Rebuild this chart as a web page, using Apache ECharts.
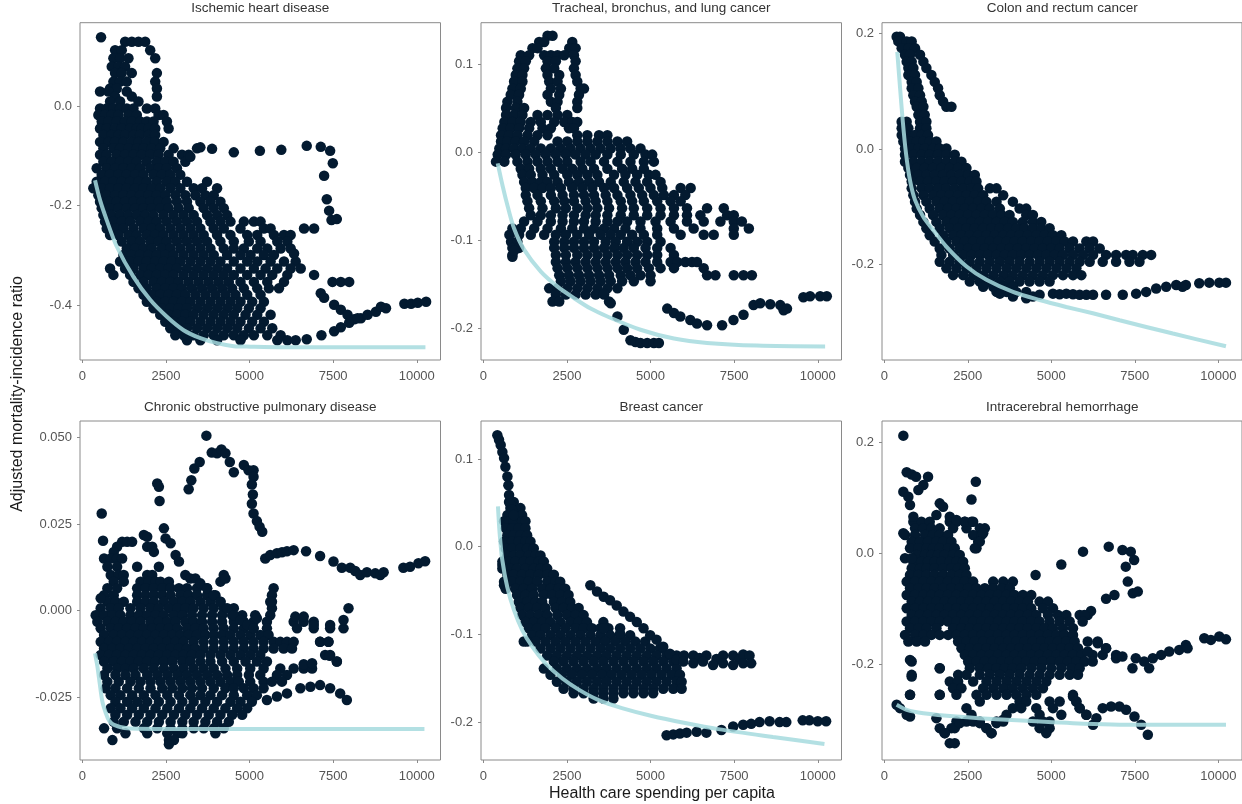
<!DOCTYPE html>
<html><head><meta charset="utf-8">
<script src="https://cdn.jsdelivr.net/npm/echarts@6/dist/echarts.min.js"></script>
<style>html,body{margin:0;padding:0;background:#fff}#c{width:1242px;height:804px}</style>
</head><body><div id="c"></div>
<script>
// ---------- DATA ----------
const panelTitles = ['Ischemic heart disease','Tracheal, bronchus, and lung cancer','Colon and rectum cancer',
  'Chronic obstructive pulmonary disease','Breast cancer','Intracerebral hemorrhage'];
const xLabel = 'Health care spending per capita';
const yLabel = 'Adjusted mortality-incidence ratio';
const xTicks = [0,2500,5000,7500,10000];
const yTicks1 = [-0.4,-0.2,0.0];
const yTicks2 = [-0.2,-0.1,0.0,0.1];
const yTicks3 = [-0.2,0.0,0.2];
const yTicks4 = [-0.025,0.000,0.025,0.050];
const yTicks5 = [-0.2,-0.1,0.0,0.1];
const yTicks6 = [-0.2,0.0,0.2];

// rows: [y, x1, x2, ...]
const ihdRows = [
[0.138,560],[0.129,1280,1480,1680,1880],[0.112,980,1180,2030],[0.096,930,1130,1380,2180],[0.079,880,1080,1280],
[0.066,980,1180,1480,2230],[0.049,930,1130,1330,2180],[0.035,830,1030,2230],[0.029,530,780,1330],[0.019,980,1480,2230],
[0.009,830,1130,1680],[-0.005,530,730,930,1130,1330,1530,1930,2180],[-0.018,480,680,880,1080,1380,1630,2280,2430],
[-0.031,580,780,1030,1280,1480,1730,1930,2130,2530],[-0.045,530,730,980,1180,1430,1630,1780,1980,2180,2580],
[-0.058,630,880,1080,1280,1530,1730,1980,2180],[-0.072,530,780,980,1230,1480,1680,1930,2180,2430],
[-0.085,630,930,1130,1380,1630,1830,2080,2330,2730],[-0.098,530,730,1030,1280,1530,1780,2030,2280,2580,2980,3180],
[-0.112,630,880,1130,1380,1630,1930,2230,2480,2730,3080],[-0.125,430,730,980,1230,1480,1730,2030,2280,2530,2830],
[-0.138,580,830,1080,1330,1580,1830,2130,2380,2630,2930],[-0.152,430,680,930,1180,1430,1680,1930,2230,2530,2780,3130,3730],
[-0.165,330,580,830,1080,1330,1580,1830,2080,2330,2630,2930,3330,3580,4030],
[-0.179,480,730,980,1230,1480,1730,1980,2230,2480,2780,3080,3380,3680,3930],
[-0.192,530,780,1030,1280,1530,1780,2030,2280,2530,2830,3130,3530,3830,4130],
[-0.205,580,830,1080,1330,1580,1830,2080,2330,2580,2880,3180,3630,3930,4230],
[-0.219,630,880,1130,1380,1630,1880,2130,2430,2730,3030,3330,3730,4030,4330],
[-0.232,680,930,1180,1430,1730,1980,2230,2530,2830,3130,3430,3830,4130,4430,4830,5130,5330],
[-0.246,730,980,1230,1530,1830,2080,2330,2630,2930,3230,3530,3930,4230,4730,5430,5630,6630,6930],
[-0.259,830,1080,1380,1630,1930,2180,2430,2730,3030,3330,3630,4030,4430,4930,5230,5730,6030,6230],
[-0.272,1180,1480,1730,2030,2280,2530,2830,3130,3430,3730,4130,4530,4980,5330,5830,6130],
[-0.286,1330,1580,1830,2080,2380,2630,2930,3230,3530,3830,4230,4530,4830,5230,5530,5930,6230],
[-0.299,1230,1480,1730,1980,2230,2480,2730,3030,3330,3630,3930,4330,4730,5030,5430,5730],
[-0.312,1130,1430,1680,1930,2180,2430,2680,2930,3230,3530,3830,4130,4530,4930,5230,5630,6030,6380],
[-0.326,830,1280,1530,1830,2080,2330,2580,2830,3130,3430,3730,4030,4330,4730,5130,5480,5830,6230,6530],
[-0.339,930,1430,1730,1980,2230,2480,2730,3030,3330,3630,3930,4230,4530,4930,5330,5680,6130,6930],
[-0.353,1530,1830,2130,2380,2630,2880,3180,3480,3780,4080,4380,4730,5130,5530,6030,7480,7730,7980],
[-0.366,1680,1930,2230,2480,2730,2980,3280,3580,3880,4180,4480,4830,5230,5580,5880],
[-0.379,1830,2080,2330,2580,2830,3080,3380,3680,3980,4280,4580,4930,5330],
[-0.393,1930,2230,2480,2730,2980,3230,3530,3830,4130,4430,4730,5080,5430],
[-0.406,2130,2380,2630,2880,3130,3430,3730,4030,4330,4630,4980,5330],
[-0.419,2330,2580,2830,3080,3330,3630,3930,4230,4530,4880,5230,5630],
[-0.433,2480,2730,2980,3230,3530,3830,4130,4430,4730,5080,5430],
[-0.446,2630,2880,3130,3430,3730,4030,4330,4630,4980,5330,5680],
[-0.460,2780,3030,3330,3630,3930,4230,4530,4830,5130,5530,5930],
[-0.470,3130,3530,4030,4730,5830,6130,6380]
];
const ihdExtra = [
[3230,-0.102],[3430,-0.085],[3530,-0.083],[3880,-0.086],[4530,-0.093],[5310,-0.090],[5950,-0.088],[6710,-0.080],
[7130,-0.082],[7410,-0.090],[7490,-0.115],[7230,-0.140],[7310,-0.187],[7380,-0.210],[7450,-0.229],[7610,-0.227],
[6330,-0.296],[7130,-0.376],[7230,-0.385],[7530,-0.399],[7730,-0.409],[7930,-0.419],[8130,-0.428],[8330,-0.426],
[8530,-0.419],[8780,-0.413],[8930,-0.403],[9080,-0.406],[9630,-0.397],[9830,-0.397],[10030,-0.395],[10280,-0.393],
[6710,-0.468],[7150,-0.460],[7530,-0.452],[7730,-0.444],[7980,-0.435],[8230,-0.426]
];
const ihdFit = [[380,-0.149],[530,-0.189],[730,-0.229],[1030,-0.282],[1530,-0.343],[2030,-0.389],[2530,-0.423],
[3030,-0.450],[3530,-0.466],[4030,-0.476],[4530,-0.482],[5030,-0.483],[6000,-0.484],[8000,-0.484],[10260,-0.484]];

const tblRows = [
[0.132,1920,2070],[0.125,1670,1820,2660],[0.118,1470,1620,2570,2760],[0.110,1120,1370,1820,2020,2220,2420,2710],
[0.103,1070,1270,1920,2170,2760],[0.095,1020,1220,1870,2120,2710],[0.0875,970,1170,1920,2270,2760],
[0.080,920,1170,1970,2220,2810],[0.072,870,1120,2020,2320,2910,3010],[0.065,820,1070,1920,2270,2860],
[0.057,720,1020,2020,2220,2810],[0.050,680,970,1220,2170,2810],[0.042,680,920,1170,1620,1920,2220,2510],
[0.034,630,870,1120,1420,1720,2120,2420,2660,2810],[0.027,580,820,1070,1370,1770,2020,2560,2710],
[0.019,530,770,1020,1320,1620,1920,2810,3110,3460,3710],
[0.012,530,720,970,1220,1520,2220,2510,2810,3110,3410,3710,4010,4300],
[0.004,480,680,920,1170,1420,1720,2020,2320,2610,2910,3210,3510,3810,4110,4400,4700],
[-0.003,430,680,970,1270,1570,1870,2170,2470,2760,3060,3360,3710,4110,4500,4850,5050],
[-0.011,380,630,1020,1320,1620,1920,2220,2510,2910,3210,3610,4010,4400,4800,5100],
[-0.019,1120,1370,1720,2020,2370,2660,2960,3310,3710,4150,4450,4800],
[-0.026,1170,1420,1770,2120,2510,2810,3110,3410,3910,4250,4600,4950,5150],
[-0.034,1220,1470,1720,1920,2220,2560,2860,3160,3460,3810,4200,4550,4900,5300],
[-0.041,1270,1520,1770,2020,2320,2660,2960,3260,3610,3910,4300,4650,5000,5350,5900,6200],
[-0.049,1270,1620,2020,2370,2710,3010,3310,3660,4010,4400,4750,5100,5400,5700,6040],
[-0.056,1320,1720,2120,2420,2710,3060,3360,3710,4110,4450,4800,5200,5600,5900],
[-0.064,1370,1770,2170,2470,2810,3110,3410,3760,4150,4500,4900,5300,5700,6090,6690,7190],
[-0.072,1420,1720,2020,2370,2710,3060,3360,3710,4110,4500,4900,5300,5700,6090,6490,7290,7490],
[-0.079,1220,1620,2020,2370,2710,3010,3360,3710,4010,4300,4700,5150,5600,6090,6590,7090,7490,7730],
[-0.087,870,1120,1520,1920,2320,2660,3010,3310,3610,3910,4250,4700,5200,5700,6290,7490,7940],
[-0.094,780,1070,1420,1820,2170,2470,2810,3160,3510,3810,4110,4450,4800,5200,5900,6590,6890,7490],
[-0.102,830,1020,2120,2420,2710,3010,3310,3660,3960,4300,4600,4900,5300],
[-0.109,870,1070,2120,2420,2710,3010,3310,3610,3910,4200,4500,4850,5200,5600],
[-0.117,870,2170,2470,2810,3110,3410,3710,4010,4300,4600,4900,5200,5700],
[-0.125,2170,2470,2760,3060,3360,3660,3960,4250,4550,4850,5200,5600,5800,6040,6240,6390],
[-0.132,2220,2510,2810,3110,3410,3710,4010,4300,4600,4950,5300,5700,6590],
[-0.140,2270,2560,2860,3160,3460,3760,4110,4400,4700,5000,6690,6940,7490,7780,8030],
[-0.147,2320,2610,2910,3210,3510,3810,4150,4500,5000],
[-0.155,1970,2220,2510,2810,3110,3410,3710,4010],
[-0.162,2170,2470,2760,3060,3360,3610],
[-0.170,2070,2270,3760]
];
const tblExtra = [
[5500,-0.178],[5700,-0.183],[5890,-0.187],[6190,-0.191],[6390,-0.195],[6690,-0.197],[7140,-0.197],[7480,-0.191],
[7780,-0.185],[8080,-0.174],[8280,-0.172],[8580,-0.173],[8880,-0.174],[8980,-0.180],[9080,-0.178],[9570,-0.165],
[9770,-0.164],[10070,-0.164],[10270,-0.164],
[3610,-0.161],[3810,-0.172],[4010,-0.187],[4200,-0.202],[4400,-0.214],[4550,-0.216],[4700,-0.217],[4900,-0.217],
[5100,-0.217],[5250,-0.217],[870,-0.119],[920,-0.112]
];
const tblFit = [[430,-0.013],[580,-0.039],[730,-0.062],[920,-0.087],[1220,-0.111],[1720,-0.136],[2220,-0.153],
[2710,-0.166],[3210,-0.178],[3710,-0.187],[4700,-0.202],[5700,-0.212],[6690,-0.217],[8180,-0.220],[10220,-0.221]];

const crcRows = [
[0.194,370,470],[0.186,420,670,820],[0.174,520,720,920],[0.163,620,770,1070],[0.151,670,820,1170],[0.140,720,870,1260],
[0.128,720,920,1410],[0.116,820,970,1510],[0.105,820,1020,1610],[0.093,870,1070,1660],[0.082,920,1120,1760],
[0.073,970,1170,1860,2010],[0.059,1020,1210],[0.047,520,670,1070,1260],[0.036,520,720,1070,1260],
[0.024,520,670,920,1120,1310],[0.013,570,770,970,1170,1360,1560],[0.001,620,820,1020,1210,1460,1660,1860],
[-0.010,620,870,1120,1360,1610,1860,2110],[-0.022,620,870,1120,1360,1610,1860,2110,2310],
[-0.033,720,970,1210,1460,1710,1960,2210,2460],[-0.045,770,1020,1260,1510,1760,2010,2260,2510,2710],
[-0.056,820,1070,1310,1560,1810,2060,2310,2560,2760],[-0.068,820,1120,1360,1610,1860,2110,2360,2610,2810,3160,3360],
[-0.080,870,1170,1460,1710,1960,2210,2460,2710,2960,3560],[-0.091,920,1260,1560,1810,2060,2310,2560,2810,3060,3360,3850],
[-0.103,970,1360,1660,1910,2160,2410,2660,2910,3160,3460,4050,4250],
[-0.114,1070,1460,1760,2010,2260,2510,2760,3010,3260,3510,3750,4250,4450],
[-0.126,1170,1560,1860,2110,2360,2610,2860,3110,3360,3610,3850,4150,4450,4700],
[-0.137,1260,1660,1960,2210,2460,2710,2960,3210,3460,3710,3950,4200,4450,4700,4950],
[-0.149,1360,1760,2060,2310,2560,2810,3060,3310,3560,3800,4050,4300,4550,4800,5050,5300],
[-0.160,1510,1860,2160,2410,2660,2910,3160,3410,3660,3900,4150,4400,4650,4900,5150,5400,5650,6050,6250],
[-0.172,1660,1960,2260,2510,2760,3010,3260,3510,3750,4000,4250,4500,4750,5000,5250,5550,5850,6150,6450],
[-0.183,1710,2060,2360,2610,2860,3110,3360,3610,3850,4100,4350,4600,4850,5100,5350,5650,5950,6250,6640,6940,7240,7440,7740,7990],
[-0.195,1660,1960,2260,2560,2860,3160,3460,3750,4050,4350,4650,4950,5250,5550,5850,6150,6540,6940,7340,7640],
[-0.206,1860,2160,2460,2760,3060,3360,3660,3950,4250,4550,4850,5150,5450,5750],
[-0.218,2060,2360,2660,2960,3260,3560,3850,4150,4450,4750,5050,5350,5650,5900],
[-0.229,2560,2860,3160,3460,3750,4050,4350,4650,4950],
[-0.238,2960,3260,3560,3850],
[-0.247,3360,3660,3950,4250]
];
const crcExtra = [
[3460,-0.250],[3850,-0.255],[4250,-0.258],[4450,-0.255],[4650,-0.252],[5050,-0.250],[5250,-0.251],[5450,-0.250],
[5650,-0.251],[5850,-0.252],[6050,-0.252],[6250,-0.252],[6640,-0.252],[7140,-0.252],[7540,-0.250],[7840,-0.247],
[8140,-0.241],[8440,-0.238],[8740,-0.235],[8930,-0.238],[9030,-0.235],[9430,-0.232],[9730,-0.231],[10030,-0.231],[10230,-0.231]
];
const crcFit = [[388,0.168],[469,0.108],[550,0.050],[648,-0.007],[768,-0.054],[918,-0.088],[1165,-0.117],
[1464,-0.140],[1864,-0.169],[2462,-0.203],[3060,-0.226],[3854,-0.247],[4651,-0.261],[5449,-0.273],[6244,-0.284],
[7045,-0.296],[8640,-0.319],[10230,-0.341]];

const copdRows = [
[0.0219,1840],[0.0214,1940],[0.0199,1190,1340,1490],[0.0185,1040,1940,2090],[0.0170,940,2140],[0.0151,650,850,1040,1190],
[0.0127,750,1040,1640,2290],[0.0103,850,1090,1240,1940,2090],[0.0084,940,1240,1740,1990,2190,2340,2590,4130],
[0.0065,750,1040,1640,1890,2140,2390,2640,2890,3130,3430,3730],
[0.0045,650,940,1640,1890,2140,2390,2640,2940,3180,3430,3730,3980],
[0.0026,750,1000,1240,1640,1890,2140,2440,2740,2990,3230,3530,3830,4130,5670],
[0.0007,550,850,1090,1440,1740,2040,2290,2590,2840,3080,3330,3630,3930,4230,4530,5670],
[-0.0013,400,650,900,1140,1440,1690,1940,2190,2440,2740,2990,3280,3580,3880,4180,4480,4780,5170,5620],
[-0.0032,450,750,1000,1240,1490,1740,2040,2290,2540,2790,3080,3330,3580,3880,4180,4530,4830,5120,5520,6320,6620,6920],
[-0.0051,550,850,1090,1340,1590,1840,2090,2340,2590,2840,3130,3380,3630,3930,4230,4530,4830,5120,5520,6420,6920,7410,7810],
[-0.0070,650,940,1190,1440,1690,1940,2190,2440,2690,2940,3180,3430,3680,3930,4180,4430,4730,5020,5320,5570],
[-0.0090,550,800,1040,1290,1540,1790,2040,2290,2540,2790,3030,3330,3630,3930,4230,4530,4830,5120,5420,5720,5920,6120,6320,7110,7360],
[-0.0109,650,900,1140,1390,1640,1890,2140,2390,2640,2890,3130,3380,3630,3930,4230,4530,4830,5120,5420,5720,6020,6270],
[-0.0128,550,800,1040,1290,1540,1790,2040,2290,2540,2790,3030,3280,3530,3830,4130,4430,4730,5020,5320,7260,7410],
[-0.0147,650,940,1190,1440,1690,1940,2190,2440,2690,2990,3230,3530,3830,4180,4530,4880,5220,5520,7610],
[-0.0167,750,1040,1290,1540,1840,2140,2440,2740,3030,3330,3630,3930,4280,4630,5020,5420,5920,6320,6620,6870],
[-0.0186,650,990,1290,1590,1940,2240,2540,2840,3130,3430,3730,4030,4330,4630,4980,5320,5820,6120],
[-0.0205,750,1090,1440,1740,2040,2340,2640,2940,3230,3530,3830,4130,4430,4680,5020,5420,5670,5970],
[-0.0224,700,990,1340,1690,2040,2390,2690,2990,3280,3580,3930,4280,4530,4830,5120,5420],
[-0.0244,850,1140,1490,1840,2190,2540,2890,3230,3530,3830,4180,4530,4930,5220],
[-0.0263,990,1340,1640,1940,2290,2640,2990,3330,3680,4030,4430,4730,5070],
[-0.0282,850,1140,1490,1840,2190,2540,2890,3230,3580,3930,4280,4630,4930],
[-0.0301,990,1340,1690,2040,2390,2740,3080,3430,3780,4130,4480,4780],
[-0.0321,940,1240,1590,1940,2290,2640,2990,3330,3680,4030,4380],
[-0.0340,650,1040,1840,2240,2640,2990,3330,3630,3930,4230],
[-0.0354,1290,1940,2540,2840,2990,3980],[-0.0374,900,2590,2740],[-0.0386,2590]
];
const copdExtra = [
[580,0.0281],[620,0.0202],[550,0.0036],
[3180,0.0351],[3260,0.0377],[3350,0.0411],[3510,0.0430],[3710,0.0506],[3870,0.0457],[4030,0.0455],[4160,0.0466],
[4280,0.0455],[4410,0.0430],[4530,0.0400],[4830,0.0421],[4970,0.0406],[5120,0.0406],[5120,0.0387],[5070,0.0365],
[5100,0.0336],[5070,0.0309],[5120,0.0281],[5220,0.0259],[5300,0.0243],[5380,0.0228],
[2240,0.0368],[2290,0.0358],[2310,0.0317],
[5470,0.0151],[5620,0.0161],[5820,0.0166],[5970,0.0169],[6120,0.0172],[6320,0.0175],[6690,0.0172],[7110,0.0158],
[7510,0.0142],[7760,0.0124],[8010,0.0124],[8160,0.0115],[8310,0.0103],[8510,0.0111],[8760,0.0108],[8910,0.0103],
[9010,0.0111],[9600,0.0124],[9800,0.0127],[10050,0.0137],[10250,0.0143],
[2440,0.0238],[2490,0.0209],[2640,0.0195],[2790,0.0161],[2890,0.0142],[3080,0.0103],[3230,0.0093],[3380,0.0093],
[3530,0.0079],[3730,0.0065],[3930,0.0045],[4130,0.0026],[4330,0.0007],[4530,-0.0013],[4730,-0.0027],[4930,-0.0041],
[5120,-0.0051],[5220,-0.0022],[4230,0.0103],[4280,0.0093],[5720,0.0065],[5670,0.0045],[5620,0.0026],
[6370,-0.0017],[6620,-0.0017],[6920,-0.0041],[7410,-0.0041],[7810,-0.0027],[7960,0.0007],[7110,-0.0090],[7360,-0.0090],
[7400,-0.0130],[7610,-0.0147],[6620,-0.0155],[6870,-0.0152],
[5520,-0.0258],[5820,-0.0248],[6120,-0.0239],[6520,-0.0224],[6820,-0.0220],[7110,-0.0215],[7410,-0.0224],[7710,-0.0239],[7910,-0.0258]
];
const copdFit = [[380,-0.0123],[450,-0.0160],[500,-0.0195],[600,-0.0263],[700,-0.0295],[800,-0.0318],[950,-0.0330],
[1340,-0.0340],[2540,-0.0342],[10230,-0.0342]];

const brcRows = [
[0.051,770,910],[0.044,810,960,1110],[0.036,720,1010,1160],[0.029,620,770,910,1160,1260],[0.021,670,860,1060,1260],
[0.013,720,910,1110,1310],[0.006,620,860,1060,1260,1410],[-0.002,670,860,1110,1310,1510],[-0.010,720,910,1110,1360,1560,1710],
[-0.017,570,760,960,1210,1410,1660,1810],[-0.025,570,810,1010,1260,1510,1710,1910],[-0.032,720,910,1160,1410,1660,1910,2110],
[-0.040,620,860,1110,1360,1610,1910,2160,2300],[-0.048,670,960,1210,1460,1760,2010,2250,2450],
[-0.055,1010,1260,1510,1810,2060,2300,2550],[-0.063,1060,1310,1560,1760,2110,2350,2600],
[-0.070,1110,1360,1610,1860,2160,2400,2650,2850],[-0.078,1160,1410,1660,1910,2210,2500,2750,3000],
[-0.086,1260,1510,1760,2010,2300,2600,2850,3100,3590],[-0.093,1360,1610,1860,2160,2450,2750,3000,3250,3500,3740,4090],
[-0.101,1460,1710,2010,2300,2600,2900,3200,3500,3790,4090,4390],
[-0.108,1210,1560,1860,2160,2450,2750,3050,3350,3640,3940,4240,4540,4840],
[-0.116,1710,2010,2300,2600,2900,3200,3500,3790,4090,4390,4690,4990,5280],
[-0.124,1910,2200,2500,2800,3100,3400,3690,3990,4290,4590,4890,5180,5480,5780],
[-0.131,2110,2400,2700,3000,3300,3590,3890,4190,4490,4790,5080,5380,5680],
[-0.139,1810,2200,2500,2800,3100,3400,3690,3990,4290,4590,4890,5180,5480,5780],
[-0.146,2010,2350,2650,2950,3250,3550,3840,4140,4440,4740,5030,5330,5630,5880],
[-0.154,2200,2500,2800,3100,3400,3690,3990,4290,4590,4890,5180,5480,5780,5930],
[-0.162,2400,2700,3000,3300,3590,3890,4190,4490,4790,5080,5380,5680,5930],
[-0.167,2700,3000,3300,3590,3890,4190,4490,4790,5080],[-0.173,3300,3590,3890]
];
const brcExtra = [
[420,0.127],[470,0.122],[520,0.116],[570,0.108],[620,0.101],[660,0.091],[720,0.080],[750,0.070],[770,0.059],
[810,0.049],[860,0.042],[910,0.036],
[3200,-0.044],[3400,-0.051],[3600,-0.057],[3790,-0.061],[3990,-0.067],[4190,-0.074],[4390,-0.080],[4590,-0.086],
[4790,-0.093],[4990,-0.101],[5180,-0.106],[5380,-0.114],[5580,-0.122],[5780,-0.129],
[6000,-0.124],[6280,-0.124],[6470,-0.127],[6670,-0.124],[6970,-0.128],[7170,-0.124],[7470,-0.124],[7670,-0.128],
[7770,-0.123],[7960,-0.124],[5980,-0.131],[6280,-0.133],[6570,-0.131],[6870,-0.135],[7170,-0.133],[7470,-0.135],
[7770,-0.133],[8010,-0.133],
[5480,-0.215],[5680,-0.214],[5880,-0.213],[6080,-0.212],[6380,-0.211],[6670,-0.212],[7120,-0.209],[7470,-0.205],
[7770,-0.203],[8010,-0.202],[8260,-0.200],[8560,-0.199],[8860,-0.200],[9060,-0.200],[9550,-0.198],[9750,-0.198],
[10000,-0.199],[10250,-0.199],
[3600,-0.093],[4090,-0.099],[570,-0.021],[620,-0.044],[1310,-0.108]
];
const brcFit = [[438,0.046],[489,0.015],[567,-0.015],[716,-0.046],[915,-0.072],[1163,-0.095],[1461,-0.114],
[1860,-0.133],[2355,-0.150],[2853,-0.163],[3450,-0.175],[4144,-0.184],[5039,-0.193],[6034,-0.201],[7027,-0.208],
[8660,-0.217],[10200,-0.225]];

const ichRows = [
[0.057,870,1110,1360,1960,2160,2410,2610],[0.045,920,1160,1410,1660,2060,2460,2860,3010],
[0.033,620,920,1220,1460,1660,1910,2660,2910],[0.021,820,1070,1310,1560,1760,2010,2810],
[0.009,770,1020,1270,1460,1660,1910,2110,2760],[-0.003,970,1220,1410,1610,1810,2060,2260],
[-0.015,870,1110,1310,1510,1710,1960,2160,2360],[-0.027,820,1070,1270,1510,1760,2010,2210,2410],
[-0.039,770,1020,1270,1510,1760,2010,2260,2460],[-0.051,670,920,1170,1410,1660,1910,2160,2410,2660,3260,3560,3850],
[-0.063,770,1020,1270,1510,1760,2010,2260,2510,2760,3010,3260,3510,3760],
[-0.075,670,920,1170,1410,1660,1910,2160,2410,2660,2910,3160,3410,3660,3900,4150,4400],
[-0.087,820,1070,1310,1560,1810,2060,2310,2560,2810,3060,3310,3560,3800,4050,4300,4650,4900],
[-0.099,670,920,1170,1410,1660,1910,2160,2410,2660,2910,3160,3410,3660,3900,4150,4400,4750,5050],
[-0.111,820,1070,1310,1560,1810,2060,2310,2560,2810,3060,3310,3560,3800,4050,4300,4550,4900,5200,5450,5850,6090],
[-0.123,670,920,1170,1410,1660,1910,2160,2410,2660,2910,3160,3410,3660,3900,4150,4400,4650,4950,5250,5550],
[-0.135,770,1020,1270,1560,2060,2310,2560,2810,3060,3310,3560,3800,4050,4300,4550,4800,5050,5350,5650],
[-0.147,620,920,1170,1410,1660,1910,2160,2410,2660,2910,3160,3410,3660,3900,4150,4400,4650,4900,5150,5400,5650],
[-0.159,720,970,1220,2210,2460,2710,2960,3210,3460,3710,3950,4200,4450,4700,4950,5200,5450,5700,6090,6390],
[-0.171,2310,2560,2810,3060,3310,3560,3800,4050,4300,4550,4800,5050,5300,5550,5800,6640],
[-0.183,2410,2660,2910,3160,3410,3660,3900,4150,4400,4650,4900,5150,5400,5650,5900,6240,6540,6940],
[-0.195,820,2510,2760,3010,3260,3510,3750,4000,4250,4500,4750,5000,5250,5500,5750,6000,6240],
[-0.207,1660,2560,2860,3110,3360,3610,3850,4100,4400,4700,5000,5300,5600,5850],
[-0.219,820,2210,2460,2860,3160,3460,3750,4050,4350,4650,4950,5250,5550,5800],
[-0.231,1960,2210,2660,3060,3360,3660,3950,4250,4550,4850],
[-0.243,2060,2310,2960,3260,3560,3850,4150,4450,4750],
[-0.255,770,1660,2160,2760,3060,3360,3660,3950,4250,4550,5650],
[-0.267,2860,4050,4250,4950,5250,5750],[-0.279,2460,3850,4100,4550,5050,5850],[-0.291,2610,3660,4650,5300,6050],
[-0.303,2160,2460,2660,2860,3360,3560,4450,4750,4950],[-0.315,2010,3060,4650,4950],[-0.324,1810,3210,4850]
];
const ichExtra = [
[570,0.212],[670,0.146],[820,0.142],[950,0.138],[1310,0.138],[1170,0.123],[1020,0.114],[570,0.111],[720,0.102],
[770,0.087],[870,0.066],[1660,0.090],[1760,0.084],[1560,0.069],[570,0.036],[620,-0.009],[820,-0.009],
[2740,0.129],[2610,0.097],[1960,0.066],[2160,0.060],[2410,0.057],[2660,0.057],[2960,0.036],[2860,0.021],[2710,0.009],
[5950,0.003],[6720,0.012],[7130,0.006],[7380,0.003],[7480,-0.012],[7230,-0.024],[7290,-0.051],[7440,-0.072],
[7590,-0.069],[6890,-0.075],[6640,-0.082],[5300,-0.020],[4530,-0.039],[6190,-0.104],[5990,-0.111],[5940,-0.123],
[6090,-0.177],[6390,-0.162],[6640,-0.171],[6940,-0.189],[7130,-0.186],[7430,-0.207],[7530,-0.189],[7780,-0.195],
[7930,-0.207],[8040,-0.189],[8290,-0.183],[8530,-0.177],[8830,-0.174],[9030,-0.165],[9080,-0.171],[9580,-0.153],
[9780,-0.156],[10030,-0.150],[10230,-0.155],
[5650,-0.258],[5750,-0.267],[5850,-0.279],[6050,-0.291],[6250,-0.309],[6350,-0.297],[6540,-0.279],[6790,-0.276],
[7040,-0.276],[7240,-0.282],[7490,-0.294],[7690,-0.309],[7890,-0.327],
[1560,-0.297],[1660,-0.315],[1810,-0.324],[1960,-0.342],[2110,-0.342],[2110,-0.315],[2260,-0.306],[2660,-0.300],
[2860,-0.306],[3060,-0.315],[3210,-0.324],[3360,-0.306],[3560,-0.300],
[370,-0.273],[470,-0.279],[670,-0.291],[770,-0.294],[770,-0.192],[820,-0.222],[770,-0.255],[1660,-0.207],[1660,-0.255]
];
const ichFit = [[370,-0.273],[670,-0.282],[1170,-0.288],[2160,-0.294],[3660,-0.300],[5650,-0.306],[7640,-0.309],[10230,-0.309]];

// ---------- BUILD ----------
function toPts(rows, extra){
  const out = [];
  rows.forEach(r => { for (let i = 1; i < r.length; i++) out.push([r[i], r[0]]); });
  return out.concat(extra);
}
const panels = [
  {rows: ihdRows,  extra: ihdExtra,  fit: ihdFit,  ticks: yTicks1, dig: 1, yr: [-0.5098, 0.1672]},
  {rows: tblRows,  extra: tblExtra,  fit: tblFit,  ticks: yTicks2, dig: 1, yr: [-0.2364, 0.1469]},
  {rows: crcRows,  extra: crcExtra,  fit: crcFit,  ticks: yTicks3, dig: 1, yr: [-0.3647, 0.2183]},
  {rows: copdRows, extra: copdExtra, fit: copdFit, ticks: yTicks4, dig: 3, yr: [-0.04315, 0.05483]},
  {rows: brcRows,  extra: brcExtra,  fit: brcFit,  ticks: yTicks5, dig: 1, yr: [-0.2432, 0.1433]},
  {rows: ichRows,  extra: ichExtra,  fit: ichFit,  ticks: yTicks6, dig: 1, yr: [-0.3724, 0.2384]}
];
const GL = [80, 481, 882], GT = [22.7, 421], GW = 360.5, GH = [337.3, 339];
const FONT = '"Liberation Sans", Arial, Helvetica, sans-serif';
const grids = [], xAxes = [], yAxes = [], series = [], graphics = [];
panels.forEach((p, i) => {
  const c = i % 3, r = Math.floor(i / 3);
  grids.push({left: GL[c], top: GT[r], width: GW, height: GH[r], show: true,
    borderColor: '#8a8a8a', borderWidth: 1, backgroundColor: '#fff', containLabel: false});
  xAxes.push({gridIndex: i, type: 'value', min: -69, max: 10710, position: 'bottom',
    axisLine: {show: false, onZero: false}, splitLine: {show: false},
    axisTick: {show: true, length: 3, customValues: xTicks, lineStyle: {color: '#8a8a8a'}},
    axisLabel: {customValues: xTicks, color: '#555', fontSize: 13, fontFamily: FONT, margin: 10,
      formatter: v => String(v)}});
  yAxes.push({gridIndex: i, type: 'value', min: p.yr[0], max: p.yr[1], position: 'left',
    axisLine: {show: false, onZero: false}, splitLine: {show: false},
    axisTick: {show: true, length: 3, customValues: p.ticks, lineStyle: {color: '#8a8a8a'}},
    axisLabel: {customValues: p.ticks, color: '#555', fontSize: 13, fontFamily: FONT, margin: 8,
      formatter: v => Number(v).toFixed(p.dig)}});
  series.push({type: 'scatter', xAxisIndex: i, yAxisIndex: i, data: toPts(p.rows, p.extra),
    symbol: 'circle', symbolSize: 10.5, itemStyle: {color: '#031a30', opacity: 1}, z: 2, silent: true});
  series.push({type: 'line', xAxisIndex: i, yAxisIndex: i, data: p.fit, showSymbol: false,
    smooth: 0.3,
    lineStyle: {color: '#a6dbde', width: 4, opacity: 0.85}, z: 3, silent: true});
  graphics.push({type: 'text', x: GL[c] + GW / 2, y: r === 0 ? 8.5 : 407.5,
    style: {text: panelTitles[i], align: 'center', verticalAlign: 'middle', textAlign: 'center', textVerticalAlign: 'middle',
      fill: '#333', font: '13.5px ' + FONT}});
});
graphics.push({type: 'text', x: 662, y: 794,
  style: {text: xLabel, align: 'center', verticalAlign: 'middle', textAlign: 'center', textVerticalAlign: 'middle',
    fill: '#1a1a1a', font: '16px ' + FONT}});
graphics.push({type: 'text', x: 18, y: 394, rotation: Math.PI / 2,
  style: {text: yLabel, align: 'center', verticalAlign: 'middle', textAlign: 'center', textVerticalAlign: 'middle',
    fill: '#1a1a1a', font: '16px ' + FONT}});

const chart = echarts.init(document.getElementById('c'), null, {renderer: 'canvas'});
chart.setOption({animation: false, backgroundColor: '#fff', grid: grids, xAxis: xAxes, yAxis: yAxes,
  series: series, graphic: graphics});
</script></body></html>
